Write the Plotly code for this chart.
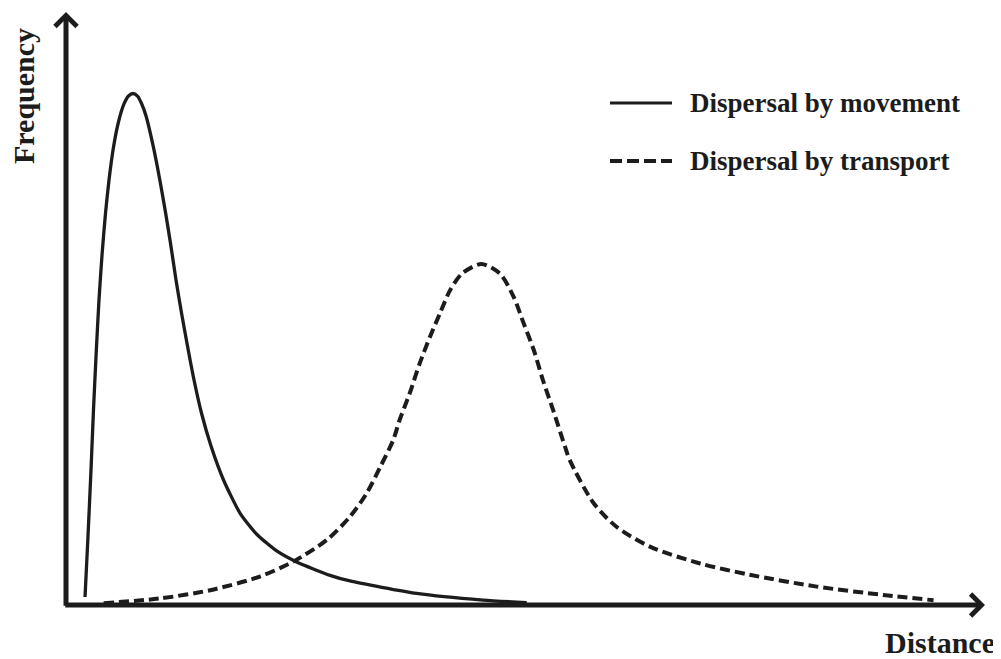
import plotly.graph_objects as go

# ---- data (arbitrary units 0-100) ----
movement_distance = [2.07, 2.39, 2.72, 2.99, 3.30, 3.59, 3.92, 4.30, 4.68, 5.17, 5.71, 6.31,
                     6.80, 7.29, 7.78, 8.22, 8.71, 9.50, 10.21, 10.84, 11.43, 11.97, 12.57,
                     13.22, 13.93, 14.74, 15.78, 17.14, 18.93, 20.78, 22.93, 25.10, 28.73,
                     30.90, 38.16, 45.38, 50.13]
movement_frequency = [1.35, 11.47, 22.77, 32.88, 43.00, 51.43, 59.02, 66.10, 71.67, 77.23,
                      81.45, 84.49, 85.83, 86.26, 85.83, 84.57, 82.46, 77.29, 71.67, 66.10,
                      60.42, 54.81, 49.24, 43.68, 37.94, 32.38, 26.81, 21.08, 15.51, 11.89,
                      9.11, 7.25, 5.00, 4.05, 1.97, 0.84, 0.39]

transport_distance = [4.1, 10.2, 15.7, 21.1, 24.7, 28.4, 30.9, 32.7, 34.2, 35.6, 36.3, 37.4,
                      38.5, 39.6, 40.7, 41.8, 43.1, 45.2, 47.2, 48.7, 49.8, 50.9, 51.9, 53.0,
                      54.3, 54.8, 57.4, 59.9, 63.6, 69.0, 74.4, 81.7, 88.9, 94.4]
transport_frequency = [0.3, 1.1, 2.5, 4.8, 7.3, 11.0, 14.9, 18.8, 23.3, 27.8, 31.2, 35.7,
                       40.8, 45.2, 49.2, 53.1, 55.9, 57.5, 55.9, 52.0, 47.5, 43.0, 37.9, 32.9,
                       26.7, 24.5, 17.2, 13.2, 9.8, 7.0, 5.1, 3.1, 1.7, 0.8]

series_names = ["Dispersal by movement", "Dispersal by transport"]
x_label = "Distance"
y_label = "Frequency"

# ---- layout geometry (page body has an 8px margin) ----
OFF = 8
W, H = 1001 - OFF, 659 - OFF
L, T = 66 - OFF, 12 - OFF
R = W - (985 - OFF)
B = H - (605 - OFF)
PW, PH = W - L - R, H - T - B


def px(xp):
    """reference pixel x -> paper x"""
    return (xp - OFF - L) / PW


def py(yp):
    """reference pixel y -> paper y"""
    return (H - B - (yp - OFF)) / PH


FONT = "Liberation Serif, Times New Roman, serif"
INK = "#1c1c1c"

fig = go.Figure()
fig.add_trace(go.Scatter(x=movement_distance, y=movement_frequency, mode="lines",
                         name=series_names[0],
                         line=dict(color=INK, width=3.3, shape="spline", smoothing=0.6)))
fig.add_trace(go.Scatter(x=transport_distance, y=transport_frequency, mode="lines",
                         name=series_names[1],
                         line=dict(color=INK, width=4, dash="10px,5px", shape="spline",
                                   smoothing=0.8)))

annotations = []
# axes with arrows
annotations.append(dict(x=100, y=0, ax=-0.25, ay=0, xref="x", yref="y", axref="x", ayref="y",
                        text="", showarrow=True, arrowhead=4, arrowsize=0.85, arrowwidth=5,
                        arrowcolor=INK, standoff=0))
annotations.append(dict(x=0, y=100, ax=0, ay=-0.4, xref="x", yref="y", axref="x", ayref="y",
                        text="", showarrow=True, arrowhead=4, arrowsize=0.85, arrowwidth=5,
                        arrowcolor=INK, standoff=0))
# axis labels
annotations.append(dict(x=px(24), y=py(96), xref="paper", yref="paper", text=y_label,
                        textangle=-90, showarrow=False, xanchor="center", yanchor="middle",
                        borderpad=0,
                        font=dict(family=FONT, size=30, color=INK, weight="bold")))
annotations.append(dict(x=px(940), y=py(642), xref="paper", yref="paper", text=x_label,
                        showarrow=False, xanchor="center", yanchor="middle",
                        font=dict(family=FONT, size=30, color=INK, weight="bold")))
# legend text
for name, yy in zip(series_names, [103, 161]):
    annotations.append(dict(x=px(688), y=py(yy), xref="paper", yref="paper", text=name,
                            showarrow=False, xanchor="left", yanchor="middle",
                            font=dict(family=FONT, size=27, color=INK, weight="bold")))

shapes = [
    dict(type="line", xref="paper", yref="paper", x0=px(610), x1=px(672), y0=py(103), y1=py(103),
         line=dict(color=INK, width=3)),
    dict(type="line", xref="paper", yref="paper", x0=px(610), x1=px(672), y0=py(161), y1=py(161),
         line=dict(color=INK, width=4, dash="12px,5px")),
]

fig.update_layout(
    width=W, height=H, autosize=False,
    margin=dict(l=L, r=R, t=T, b=B, pad=0),
    paper_bgcolor="white", plot_bgcolor="white",
    showlegend=False,
    xaxis=dict(range=[0, 100], visible=False, fixedrange=True),
    yaxis=dict(range=[0, 100], visible=False, fixedrange=True),
    annotations=annotations,
    shapes=shapes,
)

fig.write_html("out.html")
